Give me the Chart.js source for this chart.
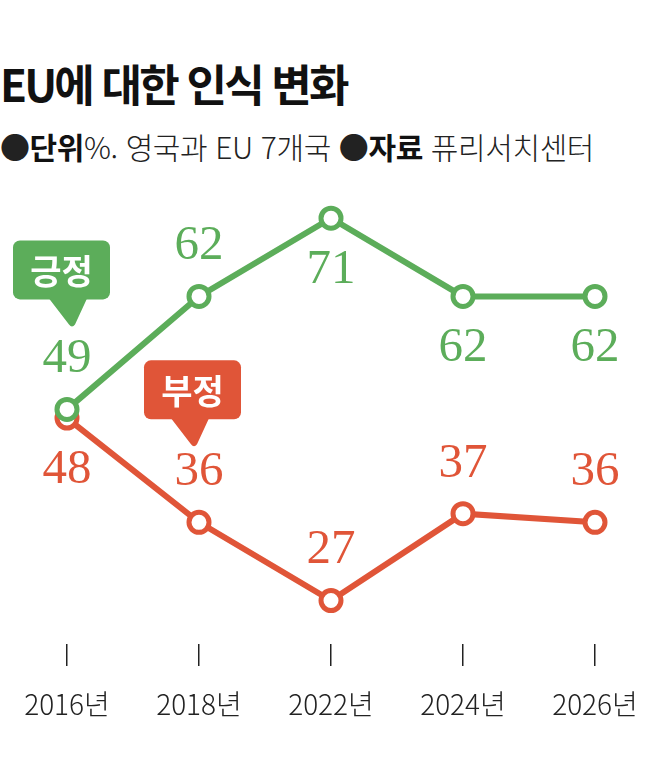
<!DOCTYPE html>
<html lang="ko">
<head>
<meta charset="utf-8">
<script src="https://cdn.jsdelivr.net/npm/chart.js@4.4.1/dist/chart.umd.min.js"></script>
<style>
  body { margin: 0; background: #fff; width: 661px; height: 774px; overflow: hidden; position: relative; font-family: "Noto Sans CJK KR", sans-serif; }
  #title { position: absolute; left: 0; top: 61px; font-size: 44px; font-weight: 700; letter-spacing: -2.8px; line-height: 1; color: #111; }
  #sub { position: absolute; left: 0; top: 131px; font-size: 30px; font-weight: 300; letter-spacing: -0.4px; line-height: 1; color: #222; }
  #sub b { font-weight: 700; color: #111; }
  canvas { position: absolute; left: 0; top: 0; }
</style>
</head>
<body>
<div id="title">EU에 대한 인식 변화</div>
<div id="sub">●<b>단위</b>%. 영국과 EU 7개국 ●<b>자료</b> 퓨리서치센터</div>
<canvas id="chart" width="661" height="774"></canvas>
<script>
// 연도별 긍정/부정 (%)
const years = ['2016년', '2018년', '2022년', '2024년', '2026년'];
const positive = [49, 62, 71, 62, 62];
const negative = [48, 36, 27, 37, 36];
// 값 라벨 위치 (위/아래)
const positiveSide = ['above', 'above', 'below', 'below', 'below'];
const negativeSide = ['below', 'above', 'above', 'above', 'above'];

const GREEN = '#5cad5a';
const RED = '#e05538';

// 점 옆 숫자 라벨
const valueLabels = {
    id: 'valueLabels',
    afterDatasetsDraw(chart) {
        const { ctx } = chart;
        ctx.save();
        ctx.font = '49px "Liberation Serif", serif';
        ctx.textAlign = 'center';
        ctx.textBaseline = 'middle';
        chart.data.datasets.forEach((ds, di) => {
            const meta = chart.getDatasetMeta(di);
            meta.data.forEach((pt, i) => {
                const dy = ds.sides[i] === 'above' ? -50 : 52;
                ctx.fillStyle = ds.borderColor;
                ctx.fillText(ds.data[i], pt.x, pt.y + dy);
            });
        });
        ctx.restore();
    }
};

// 말풍선 (긍정/부정)
const callouts = {
    id: 'callouts',
    afterDatasetsDraw(chart) {
        const { ctx } = chart;
        const items = [
            { ds: 0, idx: 0, text: '긍정', tipDx: 5, tipDy: -82, boxDx: -59 },
            { ds: 1, idx: 1, text: '부정', tipDx: -5, tipDy: -75, boxDx: -50 }
        ];
        items.forEach(c => {
            const pt = chart.getDatasetMeta(c.ds).data[c.idx];
            const color = chart.data.datasets[c.ds].borderColor;
            const tipX = pt.x + c.tipDx, tipY = pt.y + c.tipDy;
            const w = 97, h = 59, r = 7;
            const x0 = tipX + c.boxDx, y1 = tipY - 28, y0 = y1 - h;
            const bx = tipX - 4;
            ctx.save();
            ctx.fillStyle = color;
            ctx.beginPath();
            ctx.roundRect(x0, y0, w, h, r);
            ctx.fill();
            ctx.beginPath();
            ctx.moveTo(bx - 19, y1 - 1);
            ctx.lineTo(bx + 19, y1 - 1);
            ctx.lineTo(tipX + 3, tipY - 3);
            ctx.quadraticCurveTo(tipX, tipY + 1, tipX - 3, tipY - 3);
            ctx.closePath();
            ctx.fill();
            ctx.fillStyle = '#fff';
            ctx.font = 'bold 34px "Noto Sans CJK KR", sans-serif';
            ctx.textAlign = 'center';
            ctx.textBaseline = 'middle';
            ctx.fillText(c.text, x0 + w / 2, y0 + h / 2 + 1);
            ctx.restore();
        });
    }
};

new Chart(document.getElementById('chart').getContext('2d'), {
    type: 'line',
    data: {
        labels: years,
        datasets: [
            {
                label: '긍정', data: positive, sides: positiveSide,
                borderColor: GREEN, backgroundColor: '#fff',
                borderWidth: 6, pointRadius: 10, pointBorderWidth: 5,
                pointBackgroundColor: '#fff', pointBorderColor: GREEN,
                tension: 0, clip: false
            },
            {
                label: '부정', data: negative, sides: negativeSide,
                borderColor: RED, backgroundColor: '#fff',
                borderWidth: 6, pointRadius: 10, pointBorderWidth: 5,
                pointBackgroundColor: '#fff', pointBorderColor: RED,
                tension: 0, clip: false
            }
        ]
    },
    options: {
        responsive: false,
        animation: false,
        layout: { autoPadding: false, padding: { top: 140, left: 1, right: 0, bottom: 30.4 } },
        scales: {
            x: {
                offset: true,
                border: { display: false },
                grid: { drawOnChartArea: false, drawTicks: true, tickLength: 22, color: '#222', lineWidth: 1.5 },
                ticks: { color: '#222', padding: 22, font: { family: '"Noto Sans CJK KR", sans-serif', size: 28, weight: 300 } }
            },
            y: { display: false, min: 22, max: 80 }
        },
        plugins: {
            legend: { display: false },
            tooltip: { enabled: false }
        }
    },
    plugins: [valueLabels, callouts]
});
</script>
</body>
</html>
